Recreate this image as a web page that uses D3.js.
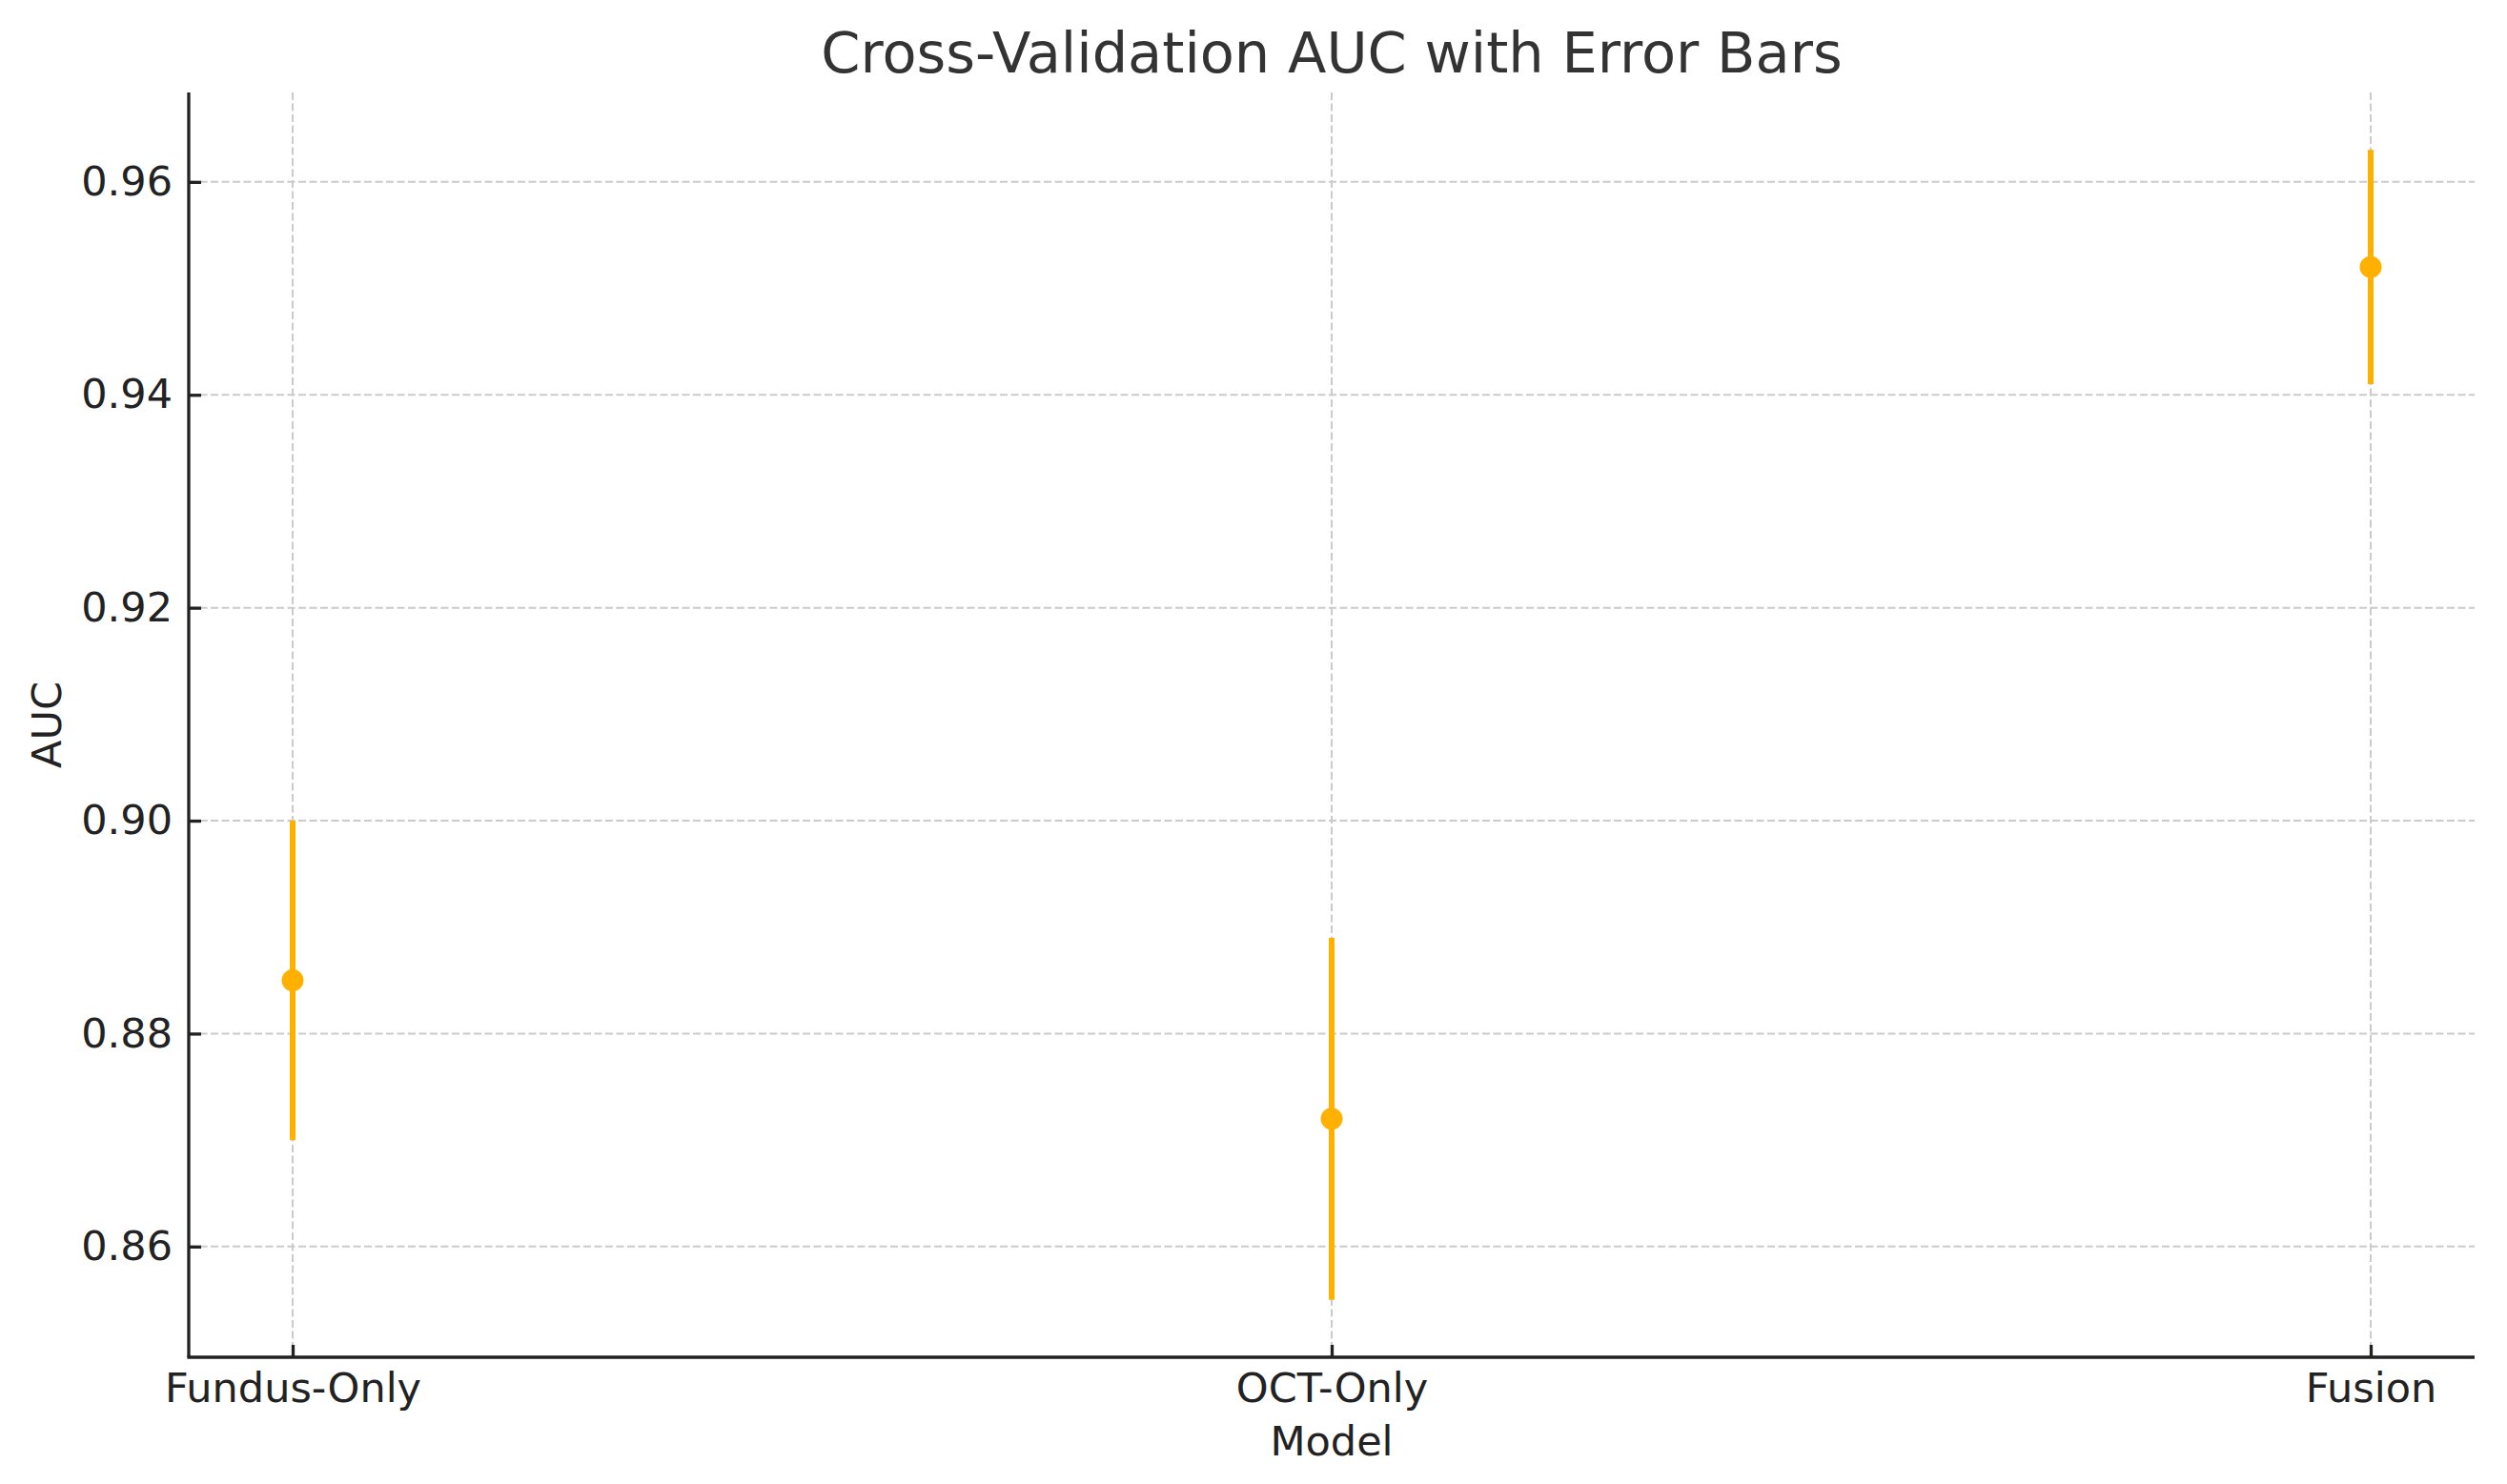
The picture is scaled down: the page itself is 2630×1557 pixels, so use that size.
<!DOCTYPE html>
<html>
<head>
<meta charset="utf-8">
<script src="https://cdn.jsdelivr.net/npm/d3@7/dist/d3.min.js"></script>
<style>
  html, body { margin: 0; padding: 0; background: #fff; }
  svg { display: block; font-family: "DejaVu Sans", sans-serif; }
</style>
</head>
<body>
<svg id="chart" width="2630" height="1557"></svg>
<script>
const models = ["Fundus-Only", "OCT-Only", "Fusion"];
const aucMean = [0.885, 0.872, 0.952];
const aucErr = [0.015, 0.017, 0.011];
const yTicks = [0.86, 0.88, 0.90, 0.92, 0.94, 0.96];

const W = 2630, H = 1557;
const m = { left: 198, right: 2596, top: 97, bottom: 1424 };
const svg = d3.select("#chart");

const lo = d3.min(aucMean.map((v, i) => v - aucErr[i]));
const hi = d3.max(aucMean.map((v, i) => v + aucErr[i]));
const padY = (hi - lo) * 0.05;

const x = d3.scalePoint().domain(models).range([m.left, m.right]).padding(0.1);
const y = d3.scaleLinear().domain([lo - padY, hi + padY]).range([m.bottom, m.top]);

const gridColor = "#cbcbcb";
// grid
const gGrid = svg.append("g");
gGrid.selectAll("line.hy").data(yTicks).join("line")
  .attr("x1", m.left).attr("x2", m.right)
  .attr("y1", d => y(d)).attr("y2", d => y(d))
  .attr("stroke", gridColor).attr("stroke-width", 2).attr("stroke-dasharray", "8,3.5");
gGrid.selectAll("line.vx").data(models).join("line")
  .attr("x1", d => x(d)).attr("x2", d => x(d))
  .attr("y1", m.top).attr("y2", m.bottom)
  .attr("stroke", gridColor).attr("stroke-width", 2).attr("stroke-dasharray", "8,3.5");

// axes
const yAxis = d3.axisLeft(y).tickValues(yTicks).tickFormat(d => d.toFixed(2))
  .tickSizeInner(-13).tickSizeOuter(0).tickPadding(17);
const xAxis = d3.axisBottom(x).tickSizeInner(-13).tickSizeOuter(0).tickPadding(16);

const gy = svg.append("g").attr("transform", `translate(${m.left},0)`).call(yAxis);
const gx = svg.append("g").attr("transform", `translate(0,${m.bottom})`).call(xAxis);
[gx, gy].forEach(g => {
  g.select(".domain").attr("stroke", "#222").attr("stroke-width", 3.3);
  g.selectAll(".tick line").attr("stroke", "#222").attr("stroke-width", 3.3);
  g.selectAll(".tick text").attr("fill", "#222").attr("font-size", 43)
    .attr("font-family", "DejaVu Sans");
});
gy.select(".domain").attr("d", `M0,${m.top}V${m.bottom}`);
gx.select(".domain").attr("d", `M${m.left - 1.6},0H${m.right}`);

// error bars
const color = "#ffb000";
const gData = svg.append("g");
gData.selectAll("line.err").data(models).join("line")
  .attr("x1", d => x(d)).attr("x2", d => x(d))
  .attr("y1", (d, i) => y(aucMean[i] - aucErr[i]))
  .attr("y2", (d, i) => y(aucMean[i] + aucErr[i]))
  .attr("stroke", color).attr("stroke-width", 6);
gData.selectAll("circle").data(models).join("circle")
  .attr("cx", d => x(d)).attr("cy", (d, i) => y(aucMean[i]))
  .attr("r", 11.5).attr("fill", color);

// title & labels
svg.append("text").attr("x", (m.left + m.right) / 2).attr("y", 76)
  .attr("text-anchor", "middle").attr("font-size", 59).attr("fill", "#333")
  .text("Cross-Validation AUC with Error Bars");
svg.append("text").attr("x", (m.left + m.right) / 2).attr("y", 1527)
  .attr("text-anchor", "middle").attr("font-size", 43).attr("fill", "#222")
  .text("Model");
svg.append("text").attr("transform", `translate(64,${(m.top + m.bottom) / 2}) rotate(-90)`)
  .attr("text-anchor", "middle").attr("font-size", 43).attr("fill", "#222")
  .text("AUC");
</script>
</body>
</html>
